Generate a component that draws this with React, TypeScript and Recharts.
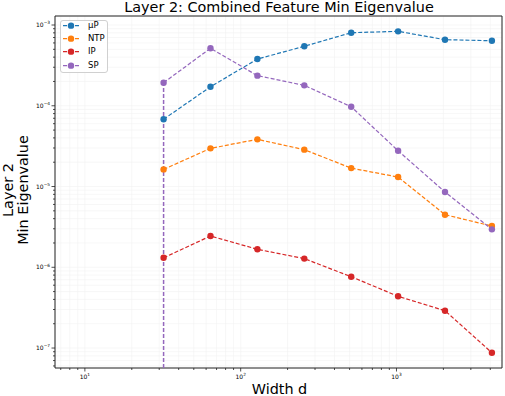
import React from 'react';
import { LineChart, Line, XAxis, YAxis, CartesianGrid, ReferenceArea } from 'recharts';

const widths = [32, 64, 128, 256, 512, 1024, 2048, 4096];
const muP = [6.8e-5, 1.72e-4, 3.79e-4, 5.45e-4, 8.03e-4, 8.35e-4, 6.58e-4, 6.39e-4];
const ntp = [1.63e-5, 2.97e-5, 3.84e-5, 2.86e-5, 1.69e-5, 1.31e-5, 4.48e-6, 3.24e-6];
const ip = [1.31e-6, 2.44e-6, 1.67e-6, 1.28e-6, 7.64e-7, 4.37e-7, 2.9e-7, 8.75e-8];
const sp = [1.93e-4, 5.15e-4, 2.36e-4, 1.79e-4, 9.73e-5, 2.77e-5, 8.55e-6, 2.95e-6];

const seriesNames = ['μP', 'NTP', 'IP', 'SP'];
const seriesKeys = ['muP', 'ntp', 'ip', 'sp'];
const colors = ['#1f77b4', '#ff7f0e', '#d62728', '#9467bd'];

const xDomain: [number, number] = [6.43, 4755];
const yDomain: [number, number] = [5.66e-8, 1.293e-3];

// major + minor ticks on the log axes
const xTicks = [7, 8, 9, 10, 20, 30, 40, 50, 60, 70, 80, 90, 100, 200, 300, 400, 500, 600, 700, 800, 900, 1000, 2000, 3000, 4000];
const yTicks = [
  6e-8, 7e-8, 8e-8, 9e-8,
  1e-7, 2e-7, 3e-7, 4e-7, 5e-7, 6e-7, 7e-7, 8e-7, 9e-7,
  1e-6, 2e-6, 3e-6, 4e-6, 5e-6, 6e-6, 7e-6, 8e-6, 9e-6,
  1e-5, 2e-5, 3e-5, 4e-5, 5e-5, 6e-5, 7e-5, 8e-5, 9e-5,
  1e-4, 2e-4, 3e-4, 4e-4, 5e-4, 6e-4, 7e-4, 8e-4, 9e-4,
  1e-3,
];

const data = widths.map((w, i) => ({ w, muP: muP[i], ntp: ntp[i], ip: ip[i], sp: sp[i] }));
// SP drops off the log axis below the first width
const spDrop = [
  { w: widths[0], v: yDomain[0] },
  { w: widths[0], v: sp[0] },
];

const FONT = 'DejaVu Sans, sans-serif';
const SPINE = '#222';
const DASH = '4 2';

const isMajor = (v: number) => Math.abs(Math.log10(v) - Math.round(Math.log10(v))) < 1e-6;
const expText = (v: number) => {
  const e = Math.round(Math.log10(v));
  return e < 0 ? `\u2212${-e}` : `${e}`;
};

const XTick = ({ x, y, payload }: any) => {
  const major = isMajor(payload.value);
  return (
    <g>
      <line x1={x} x2={x} y1={y} y2={y + (major ? 3.5 : 2)} stroke={SPINE} strokeWidth={0.8} />
      {major && (
        <text x={x} y={y + 11} textAnchor="middle" fontSize={6} fontFamily={FONT} fill="#000">
          10<tspan dy={-2.6} fontSize={4.3}>{expText(payload.value)}</tspan>
        </text>
      )}
    </g>
  );
};

const YTick = ({ x, y, payload }: any) => {
  const major = isMajor(payload.value);
  return (
    <g>
      <line x1={x - (major ? 3.5 : 2)} x2={x} y1={y} y2={y} stroke={SPINE} strokeWidth={0.8} />
      {major && (
        <text x={x - 5} y={y + 2} textAnchor="end" fontSize={6} fontFamily={FONT} fill="#000">
          10<tspan dy={-2.6} fontSize={4.3}>{expText(payload.value)}</tspan>
        </text>
      )}
    </g>
  );
};

const LegendBox = () => (
  <div
    style={{
      position: 'absolute',
      left: 60,
      top: 20,
      width: 48,
      height: 53,
      boxSizing: 'border-box',
      border: '1px solid #d0d0d0',
      borderRadius: 3,
      background: 'rgba(255,255,255,0.8)',
      fontFamily: FONT,
      fontSize: 8.5,
      color: '#000',
    }}
  >
    {seriesNames.map((name, i) => (
      <div key={name} style={{ position: 'absolute', left: 0, top: 4.3 + i * 13.3 - 6.65, height: 13.3, display: 'flex', alignItems: 'center' }}>
        <svg width={24} height={13.3} style={{ display: 'block' }}>
          <line x1={2} x2={18} y1={6.65} y2={6.65} stroke={colors[i]} strokeWidth={1.2} strokeDasharray={DASH} />
          <circle cx={10} cy={6.65} r={3.2} fill={colors[i]} />
        </svg>
        <span style={{ marginLeft: 3, lineHeight: '13.3px' }}>{name}</span>
      </div>
    ))}
  </div>
);

const App: React.FC = () => {
  return (
    <div style={{ position: 'absolute', left: 0, top: 0, width: 505, height: 396, background: '#fff' }}>
      <LineChart width={505} height={396} data={data} margin={{ top: 16, right: 3, bottom: 0, left: 0 }}>
        <CartesianGrid stroke="#f2f2f2" strokeWidth={0.6} />
        <XAxis
          dataKey="w"
          type="number"
          scale="log"
          domain={xDomain}
          allowDataOverflow
          ticks={xTicks}
          interval={0}
          height={28}
          axisLine={false}
          tickLine={false}
          tickSize={0}
          tickMargin={0}
          tick={(props: any) => <XTick {...props} />}
        />
        <YAxis
          type="number"
          scale="log"
          domain={yDomain}
          allowDataOverflow
          ticks={yTicks}
          interval={0}
          width={55}
          axisLine={false}
          tickLine={false}
          tickSize={0}
          tickMargin={0}
          tick={(props: any) => <YTick {...props} />}
        />
        <Line
          data={spDrop}
          dataKey="v"
          type="linear"
          stroke={colors[3]}
          strokeWidth={1.5}
          strokeDasharray={DASH}
          dot={false}
          activeDot={false}
          legendType="none"
          isAnimationActive={false}
        />
        {seriesKeys.map((k, i) => (
          <Line
            key={k}
            dataKey={k}
            type="linear"
            stroke={colors[i]}
            strokeWidth={1.2}
            strokeDasharray={DASH}
            dot={{ r: 3.2, fill: colors[i], stroke: colors[i], strokeWidth: 0 }}
            activeDot={false}
            isAnimationActive={false}
          />
        ))}
        <ReferenceArea x1={xDomain[0]} x2={xDomain[1]} y1={yDomain[0]} y2={yDomain[1]} fill="none" stroke={SPINE} strokeWidth={1} ifOverflow="visible" />
      </LineChart>
      <svg width={505} height={396} style={{ position: 'absolute', left: 0, top: 0, pointerEvents: 'none' }}>
        <text x={279} y={11.7} textAnchor="middle" fontSize={14.4} fontFamily={FONT} fill="#000">
          Layer 2: Combined Feature Min Eigenvalue
        </text>
        <text x={279.5} y={393.8} textAnchor="middle" fontSize={14.4} fontFamily={FONT} fill="#000">
          Width d
        </text>
        <g transform="translate(0,190) rotate(-90)">
          <text x={0} y={12.5} textAnchor="middle" fontSize={14.4} fontFamily={FONT} fill="#000">Layer 2</text>
          <text x={0} y={27.5} textAnchor="middle" fontSize={14.4} fontFamily={FONT} fill="#000">Min Eigenvalue</text>
        </g>
      </svg>
      <LegendBox />
    </div>
  );
};

export default App;
